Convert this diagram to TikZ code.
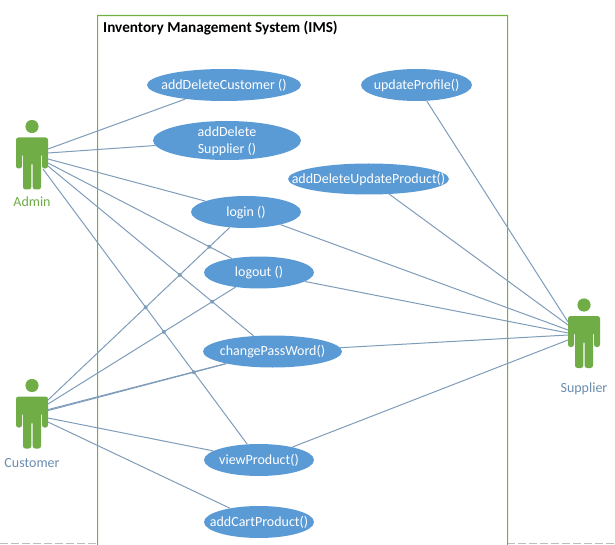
\documentclass[tikz,border=0pt]{standalone}
\usepackage{fontspec}
\setmainfont{Carlito}
\usetikzlibrary{shapes.geometric}
\definecolor{ucblue}{HTML}{5B9BD5}
\definecolor{ucgreen}{HTML}{70AD47}
\definecolor{ucframe}{HTML}{70B040}
\definecolor{uclink}{HTML}{7F9DBA}
\definecolor{uclabel}{HTML}{6B8DAE}
\definecolor{ucdash}{HTML}{BDBDBD}
\newcommand{\uctext}[1]{\makebox[0pt]{\raisebox{-0.32em}[0pt][0pt]{\begin{tabular}{@{}c@{}}#1\end{tabular}}}}
\tikzset{
  usecase/.style={ellipse,fill=ucblue,inner sep=0pt,text=white,font=\fontsize{14}{17}\selectfont},
  link/.style={draw=uclink,line width=1pt},
  crossmark/.style={circle,fill=uclink,inner sep=0pt,minimum size=4pt},
  actorlabel/.style={font=\fontsize{14}{17}\selectfont,inner sep=0pt},
  system/.style={fill=ucframe},
  pagedash/.style={color=ucdash,line width=1pt,dash pattern=on 8pt off 3pt},
  actorbody/.pic={
    \fill[ucgreen] (0,11) circle (6.6);
    \fill[ucgreen,rounded corners=2.5pt] (-16,0) -- (16,0) -- (16,-31) -- (10,-31) -- (10,-16) -- (9,-16) -- (9,-52) -- (0.7,-52) -- (0.7,-25) -- (-0.7,-25) -- (-0.7,-52) -- (-9,-52) -- (-9,-16) -- (-10,-16) -- (-10,-31) -- (-16,-31) -- cycle;
  }
}
\begin{document}
\begin{tikzpicture}[x=1pt,y=1pt]
\useasboundingbox (0,0) rectangle (615,-545);
\fill[white] (0,0) rectangle (615,-545);
% dashed page edge
\draw[pagedash] (0,-543.5) -- (97,-543.5);
\draw[pagedash] (507,-543.5) -- (615,-543.5);
% system boundary
\fill[system] (97,-545) -- (97,-15) -- (508.2,-15) -- (508.2,-545) -- (507,-545) -- (507,-16.2) -- (98.2,-16.2) -- (98.2,-545) -- cycle;
\node[anchor=west,inner sep=0pt,font=\bfseries\fontsize{15.2}{18}\selectfont] (title) at (103,-28) {Inventory Management System (IMS)};
% use cases
\node[usecase,minimum width=154pt,minimum height=32pt] (custuc) at (224,-85) {\uctext{addDeleteCustomer ()}};
\node[usecase,minimum width=148pt,minimum height=39pt] (suppuc) at (227,-140.5) {\uctext{addDelete\\Supplier ()}};
\node[usecase,minimum width=110pt,minimum height=32pt] (login) at (246,-212) {\uctext{login ()}};
\node[usecase,minimum width=110pt,minimum height=32pt] (logout) at (259,-272.5) {\uctext{logout ()}};
\node[usecase,minimum width=139pt,minimum height=32pt] (change) at (272.5,-351.5) {\uctext{changePassWord()}};
\node[usecase,minimum width=110pt,minimum height=32pt] (view) at (259,-460) {\uctext{viewProduct()}};
\node[usecase,minimum width=110pt,minimum height=32pt] (cart) at (259,-522) {\uctext{addCartProduct()}};
\node[usecase,minimum width=111pt,minimum height=32pt] (profile) at (416.5,-85) {\uctext{updateProfile()}};
\node[usecase,minimum width=161pt,minimum height=31pt] (produc) at (368.5,-179) {\uctext{addDeleteUpdateProduct()}};
% actors
\pic at (32,-137.5) {actorbody};
\pic at (32,-396.5) {actorbody};
\pic at (584,-316) {actorbody};
\node[actorlabel,text=ucgreen] (adminlabel) at (32,-201.5) {Admin};
\node[actorlabel,text=uclabel] (customerlabel) at (32,-463) {Customer};
\node[actorlabel,text=uclabel] (supplierlabel) at (584,-389) {Supplier};
% connector ends on the actors
\coordinate (ad1) at (48,-149);
\coordinate (ad2) at (48,-153);
\coordinate (ad3) at (48,-159);
\coordinate (ad4) at (48,-163);
\coordinate (ad5) at (48,-166);
\coordinate (ad6) at (43,-169);
\coordinate (cu1) at (48,-400);
\coordinate (cu2) at (48,-404);
\coordinate (cu3) at (48,-410.6);
\coordinate (cu3b) at (48,-409.6);
\coordinate (cu4) at (48,-418);
\coordinate (cu5) at (48,-422);
\coordinate (su1) at (568,-322);
\coordinate (su2) at (568,-325);
\coordinate (su3) at (568,-330);
\coordinate (su4) at (568,-333);
\coordinate (su5) at (568,-335);
\coordinate (su6) at (568,-340);
\draw[link] (ad1) -- (custuc);
\draw[link] (ad2) -- (suppuc);
\draw[link] (ad3) -- (login);
\draw[link] (ad4) -- (logout);
\draw[link] (ad5) -- (change);
\draw[link] (ad6) -- (view);
\draw[link] (cu1) -- (login);
\draw[link] (cu2) -- (logout);
\draw[link] (cu3) -- (change);
\draw[link] (cu3b) -- (change);
\draw[link] (cu4) -- (view);
\draw[link] (cu5) -- (cart);
\draw[link] (su1) -- (profile);
\draw[link] (su2) -- (produc);
\draw[link] (su3) -- (login);
\draw[link] (su4) -- (logout);
\draw[link] (su5) -- (change);
\draw[link] (su6) -- (view);
% small marks where connectors cross
\path (intersection of ad4--logout and cu1--login) coordinate (xa);
\path (intersection of ad5--change and cu1--login) coordinate (xb);
\path (intersection of ad5--change and cu2--logout) coordinate (xc);
\path (intersection of ad6--view and cu1--login) coordinate (xd);
\path (intersection of ad6--view and cu2--logout) coordinate (xe);
\path (intersection of ad6--view and cu3--change) coordinate (xf);
\foreach \p in {xa,xb,xc,xd,xe,xf} \node[crossmark] at (\p) {};
\end{tikzpicture}
\end{document}
